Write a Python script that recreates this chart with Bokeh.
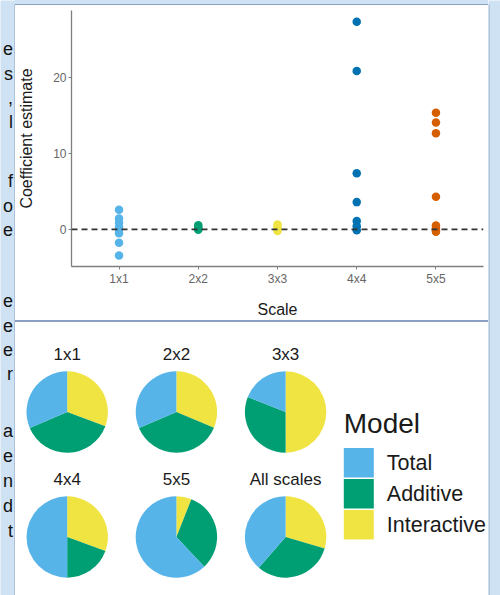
import numpy as np
from bokeh.plotting import figure
from bokeh.models import Range1d, FactorRange, FixedTicker, Span, ColumnDataSource, Div
from bokeh.layouts import column, row
from bokeh.embed import file_html
from bokeh.resources import INLINE
from bokeh.core.properties import value

# ---------------- data ----------------
scales = ["1x1", "2x2", "3x3", "4x4", "5x5"]
scale_colors = ["#56B4E9", "#009E73", "#F0E442", "#0072B2", "#D55E00"]
est_1x1 = [2.6, 1.45, 0.9, 0.35, -0.05, -0.5, -1.75, -3.45]
est_2x2 = [0.55, 0.3, 0.1, -0.05]
est_3x3 = [0.65, 0.35, 0.1, -0.2]
est_4x4 = [27.4, 20.9, 7.4, 3.6, 1.1, 0.4, -0.1]
est_5x5 = [15.4, 14.1, 12.7, 4.3, 0.5, 0.2, -0.1, -0.3]
y_ticks = [0, 10, 20]

pie_panels = ["1x1", "2x2", "3x3", "4x4", "5x5", "All scales"]
models = ["Total", "Additive", "Interactive"]
model_colors = ["#56B4E9", "#009E73", "#F0E442"]
share_total = [0.314, 0.314, 0.19, 0.50, 0.62, 0.386]
share_additive = [0.379, 0.373, 0.31, 0.194, 0.32, 0.318]
share_interactive = [0.307, 0.313, 0.50, 0.306, 0.06, 0.296]

# cropped body text visible at the left edge of the reference
side_letters = ["e", "s", ",", "l", "f", "o", "e", "e", "e", "e", "r", "a", "e", "n", "d", "t"]
side_lines = [48, 73, 97, 121, 180, 205, 229, 300, 325, 349, 373, 430, 455, 480, 505, 530]

# ---------------- styles ----------------
FONT = "Liberation Sans"
PAGE_BG = "#cfe2f3"
PANEL_EDGE = "#8ba1c3"
AXIS_COL = "#7f7f7f"
TICK_TXT = "#666666"
TITLE_TXT = "#1a1a1a"

W_TOTAL, H_TOTAL = 500, 595
LEFT_W, RIGHT_W = 15, 12
MID_W = W_TOTAL - LEFT_W - RIGHT_W      # 473
TOP_BAND, P_H, SEP_H = 5, 315, 2
Q_H = H_TOTAL - TOP_BAND - P_H - SEP_H  # 273


def blank(w, h, xr, yr, bg):
    f = figure(width=w, height=h, x_range=xr, y_range=yr, output_backend="svg",
               toolbar_location=None, x_axis_location=None, y_axis_location=None,
               min_border=0)
    f.grid.visible = False
    f.outline_line_color = None
    f.background_fill_color = bg
    f.border_fill_color = bg
    return f


# ---------------- side strips / bands ----------------
left = blank(LEFT_W, H_TOTAL, Range1d(0, LEFT_W), Range1d(H_TOTAL, 0), PAGE_BG)
left.quad(left=LEFT_W - 1, right=LEFT_W, top=TOP_BAND - 1, bottom=H_TOTAL,
          fill_color=PANEL_EDGE, line_color=None)
left.text(x=[LEFT_W - 2.5] * len(side_letters), y=side_lines, text=side_letters,
          text_align="right", text_baseline="middle", text_font=value(FONT),
          text_font_size="18px", text_color="#111111")

right = blank(RIGHT_W, H_TOTAL, Range1d(0, RIGHT_W), Range1d(H_TOTAL, 0), PAGE_BG)
right.quad(left=0, right=1, top=TOP_BAND - 1, bottom=H_TOTAL,
           fill_color=PANEL_EDGE, line_color=None)

top_band = Div(width=MID_W, height=TOP_BAND, margin=0,
               styles={"background-color": PAGE_BG,
                       "box-shadow": f"inset 0 -1px 0 {PANEL_EDGE}"})
sep = Div(width=MID_W, height=SEP_H, margin=0, styles={"background-color": PANEL_EDGE})

# ---------------- top: scatter ----------------
p = figure(width=MID_W, height=P_H,
           x_range=FactorRange(factors=scales, range_padding=0.1, range_padding_units="absolute"),
           y_range=Range1d(-4.9, 28.9),
           output_backend="svg", toolbar_location=None,
           min_border_left=56, min_border_right=5, min_border_top=5, min_border_bottom=53)
p.background_fill_color = "white"
p.border_fill_color = "white"
p.outline_line_color = None
p.grid.visible = False

xs, ys, cs = [], [], []
for name, vals, col in zip(scales, [est_1x1, est_2x2, est_3x3, est_4x4, est_5x5], scale_colors):
    xs += [name] * len(vals)
    ys += list(vals)
    cs += [col] * len(vals)
src = ColumnDataSource(dict(x=xs, y=ys, c=cs))
p.scatter("x", "y", source=src, size=8.5, fill_color="c", line_color=None)

p.add_layout(Span(location=0, dimension="width", line_color="#333333",
                  line_width=1.6, line_dash="6 4"))

for ax in (p.xaxis[0], p.yaxis[0]):
    ax.axis_line_color = AXIS_COL
    ax.axis_line_width = 1.3
    ax.major_tick_line_color = AXIS_COL
    ax.major_tick_in = 0
    ax.major_tick_out = 3
    ax.minor_tick_line_color = None
    ax.major_label_text_font = FONT
    ax.major_label_text_font_size = "12px"
    ax.major_label_text_color = TICK_TXT
    ax.major_label_standoff = 2
    ax.axis_label_text_font = FONT
    ax.axis_label_text_font_size = "16px"
    ax.axis_label_text_font_style = "normal"
    ax.axis_label_text_color = TITLE_TXT

p.yaxis[0].ticker = FixedTicker(ticks=y_ticks)
p.yaxis[0].axis_label = "Coefficient estimate"
p.yaxis[0].axis_label_standoff = 15
p.xaxis[0].axis_label = "Scale"
p.xaxis[0].axis_label_standoff = 12

# ---------------- bottom: pies ----------------
q = blank(MID_W, Q_H, Range1d(0, MID_W), Range1d(0, Q_H), "white")

R = 40.7
pie_x0, pie_dx = 51.7, 109.2
pie_y0, pie_dy = 183.5, 125.0
title_dy = 57.7

tx, ty = [], []
for i, name in enumerate(pie_panels):
    cx = pie_x0 + (i % 3) * pie_dx
    cy = pie_y0 - (i // 3) * pie_dy
    fr = np.array([share_interactive[i], share_additive[i], share_total[i]], dtype=float)
    cum = np.concatenate([[0.0], np.cumsum(fr)]) / fr.sum()
    starts = [np.pi / 2 - 2 * np.pi * cum[k + 1] for k in range(3)]
    ends = [np.pi / 2 - 2 * np.pi * cum[k] for k in range(3)]
    cols = [model_colors[2], model_colors[1], model_colors[0]]
    q.wedge(x=[cx] * 3, y=[cy] * 3, radius=R, start_angle=starts, end_angle=ends,
            fill_color=cols, line_color=None)
    tx.append(cx)
    ty.append(cy + title_dy)

q.text(x=tx, y=ty, text=pie_panels, text_align="center", text_baseline="middle",
       text_font=value(FONT), text_font_size="17px", text_color=TITLE_TXT)

# legend (drawn manually so swatches touch like the reference)
leg_x, leg_top = 328.3, 132.8
sw_w, sw_h, pitch = 30, 29.5, 31
q.text(x=[leg_x], y=[leg_top + 39.5], text=["Model"], text_align="left", text_baseline="middle",
       text_font=value(FONT), text_font_size="28px", text_color=TITLE_TXT)
ly = [leg_top - k * pitch for k in range(len(models))]
q.rect(x=[leg_x + sw_w / 2] * len(models), y=ly, width=sw_w, height=sw_h,
       fill_color=model_colors, line_color=None)
q.text(x=[leg_x + 43] * len(models), y=ly, text=models, text_align="left", text_baseline="middle",
       text_font=value(FONT), text_font_size="21.5px", text_color=TITLE_TXT)

mid = column(top_band, row(p, spacing=0), sep, row(q, spacing=0), spacing=0)
root = row(left, mid, right, spacing=0)

with open("out.html", "w") as f:
    f.write(file_html(root, INLINE))
